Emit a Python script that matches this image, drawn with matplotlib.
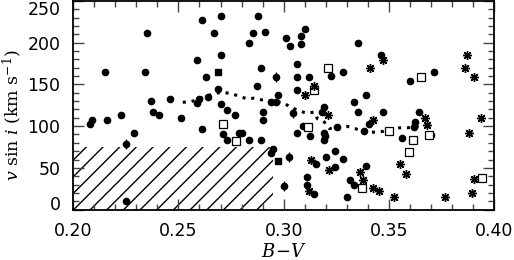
import numpy as np
import matplotlib
matplotlib.use("Agg")
import matplotlib.pyplot as plt

# ---------- data ----------
# filled circles (B-V, v sin i)
circ_bv = [0.2611, 0.2350, 0.2589, 0.2151, 0.2341, 0.2629, 0.2371, 0.2461, 0.2600, 0.2590,
           0.2639, 0.2381, 0.2410, 0.2229, 0.2162, 0.2512, 0.2090, 0.2081, 0.2611, 0.2702,
           0.2880, 0.2671, 0.2852, 0.2912, 0.3102, 0.3082, 0.3012, 0.3031, 0.2833, 0.3082,
           0.3352, 0.2702, 0.3063, 0.2892, 0.3281, 0.2963, 0.3063, 0.3121, 0.3222, 0.2871,
           0.3063, 0.2690, 0.2972, 0.3332, 0.3351, 0.2702, 0.2730, 0.2768, 0.2901, 0.2901,
           0.2940, 0.2962, 0.3042, 0.3192, 0.3181, 0.3091, 0.3253, 0.3462, 0.3712, 0.3601,
           0.3391, 0.3471, 0.3640, 0.3621, 0.3403, 0.3620, 0.3379, 0.3701, 0.3561, 0.3391,
           0.3316, 0.3332, 0.2290, 0.2252, 0.2252, 0.2711, 0.2733, 0.2790, 0.2801, 0.2833,
           0.2893, 0.2949, 0.2941, 0.3023, 0.3002, 0.3063, 0.3123, 0.3192, 0.3197, 0.3192,
           0.3241, 0.3202, 0.3281, 0.3153, 0.3241, 0.3110, 0.3110, 0.3142, 0.3300]
circ_vsini = [227.3, 211.5, 179.6, 164.4, 164.4, 158.5, 130.7, 132.7, 132.7, 127.9,
              135.4, 116.7, 112.8, 112.8, 106.8, 109.5, 107.4, 102.0, 96.7, 232.1,
              232.1, 211.5, 211.5, 213.4, 216.2, 208.2, 205.5, 195.5, 200.2, 198.3,
              200.2, 185.6, 174.5, 169.2, 164.4, 158.5, 158.5, 158.5, 160.5, 148.6,
              143.4, 144.6, 137.8, 128.6, 116.7, 126.7, 119.6, 112.8, 117.5, 106.8,
              129.5, 129.5, 115.5, 122.7, 117.5, 99.6, 98.8, 185.6, 164.4, 153.7,
              137.5, 116.7, 116.7, 104.8, 102.9, 98.4, 94.0, 89.7, 85.7, 51.9,
              35.2, 29.2, 92.1, 79.0, 10.0, 90.9, 82.9, 91.6, 92.1, 83.8,
              83.8, 73.0, 67.8, 63.0, 28.0, 91.6, 88.1, 91.6, 88.1, 83.8,
              70.2, 63.0, 61.1, 55.1, 51.1, 39.1, 29.2, 18.5, 15.3]

# points with small error bars
err_bv = [0.2963, 0.3042, 0.2252, 0.3023, 0.3002]
err_vsini = [158.5, 115.5, 79.0, 63.0, 28.0]
err_size = [6, 6, 6, 6, 6]

# filled squares
fsq_bv = [0.2690, 0.2971]
fsq_vsini = [164.4, 57.9]

# open squares
osq_bv = [0.3211, 0.3142, 0.2711, 0.3113, 0.3652, 0.3499, 0.3688, 0.3612, 0.3593, 0.3372,
          0.3942, 0.2773]
osq_vsini = [169.2, 143.4, 102.9, 98.8, 159.3, 94.3, 88.9, 83.8, 69.0, 26.0,
             38.4, 82.1]

# asterisks
ast_bv = [0.3142, 0.3102, 0.3211, 0.3471, 0.3411, 0.3870, 0.3862, 0.3902, 0.3672, 0.3680,
          0.3422, 0.3934, 0.3878, 0.3553, 0.3582, 0.3363, 0.3374, 0.3422, 0.3454, 0.3522,
          0.3764, 0.3894, 0.3905, 0.3131, 0.3213, 0.3118]
ast_vsini = [148.6, 137.5, 112.8, 179.2, 169.7, 185.6, 169.7, 158.5, 110.0, 101.7,
             106.8, 110.0, 91.6, 55.1, 42.4, 45.1, 36.0, 26.0, 22.1, 15.3,
             15.3, 19.3, 36.4, 59.9, 47.1, 22.1]

# running mean (dotted line)
mean_bv = [0.2521, 0.2562, 0.2675, 0.2714, 0.2754, 0.2790, 0.2825, 0.2857, 0.2893, 0.2928,
           0.2964, 0.2999, 0.3027, 0.3075, 0.3110, 0.3145, 0.3160, 0.3189, 0.3217, 0.3260,
           0.3300, 0.3335, 0.3387, 0.3443, 0.3482, 0.3550, 0.3588, 0.3656]
mean_vsini = [128.6, 129.5, 139.5, 140.6, 138.7, 135.8, 132.8, 133.5, 131.6, 130.8,
              129.6, 128.0, 123.6, 118.0, 115.6, 116.8, 108.9, 106.1, 97.0, 98.9,
              99.8, 97.5, 92.8, 92.8, 94.0, 98.0, 98.0, 100.9]

# hatched region
hatch_bv = [0.20, 0.295]
hatch_top = 75

# ---------- plot ----------
plt.rcParams['mathtext.fontset'] = 'dejavuserif'
fig = plt.figure(figsize=(5.14, 2.60), dpi=100)
ax = fig.add_axes([0.142, 0.194, 0.820, 0.802])

ax.fill_between(hatch_bv, 0, hatch_top, hatch='//', facecolor='none',
                edgecolor='k', linewidth=0)

ax.plot(mean_bv, mean_vsini, color='k', linestyle=(0, (1, 1.9)), linewidth=2.2)

ax.errorbar(err_bv, err_vsini, yerr=err_size, fmt='none', ecolor='k',
            elinewidth=1, capsize=0)
ax.plot(circ_bv, circ_vsini, 'o', color='k', markersize=4.5, linestyle='none')
ax.plot(fsq_bv, fsq_vsini, 's', color='k', markersize=5, linestyle='none')
ax.plot(osq_bv, osq_vsini, 's', markerfacecolor='white', markeredgecolor='k',
        markeredgewidth=0.9, markersize=5.5, linestyle='none')
ax.plot(ast_bv, ast_vsini, marker=(8, 2, 0), color='k', markersize=6.5,
        markeredgewidth=1.0, linestyle='none')

ax.set_xlim(0.20, 0.40)
ax.set_ylim(0, 250)
ax.set_xticks([0.20, 0.25, 0.30, 0.35, 0.40])
ax.set_xticklabels(['0.20', '0.25', '0.30', '0.35', '0.40'])
ax.set_yticks([0, 50, 100, 150, 200, 250])
ax.set_xticks(np.arange(0.20, 0.401, 0.01), minor=True)
ax.set_yticks(np.arange(0, 251, 10), minor=True)

ax.tick_params(which='both', direction='in', top=True, right=True,
               labelsize=12.5, width=1.0, color='#444444')
ax.tick_params(which='major', length=8, pad=9)
ax.tick_params(which='minor', length=4.5)
for s in ax.spines.values():
    s.set_linewidth(1.3)

# keep the end labels inside the figure, like the original
ylabs = ax.get_yticklabels()
ylabs[0].set_verticalalignment('baseline')
ylabs[-1].set_verticalalignment('top')

ax.set_xlabel(r'$B\!-\!V$', fontsize=13, labelpad=2)
ax.set_ylabel(r'$v$ sin $i$ (km s$^{-1}$)', fontsize=12.5, family='DejaVu Serif')
ax.yaxis.set_label_coords(-0.117, 0.455)

fig.savefig('out.png', dpi=100)
